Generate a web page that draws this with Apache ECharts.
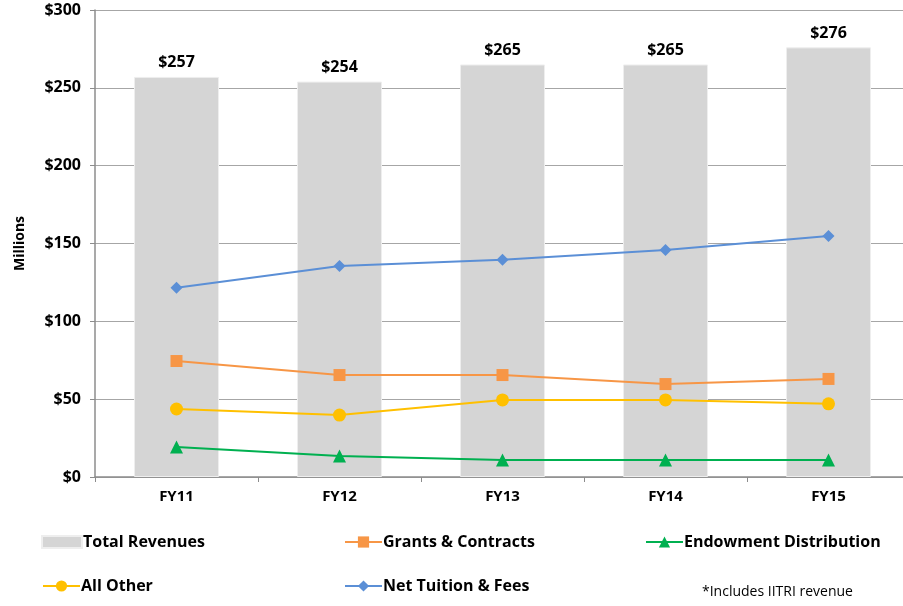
<!DOCTYPE html>
<html><head><meta charset="utf-8">
<script src="https://cdn.jsdelivr.net/npm/echarts@6/dist/echarts.min.js"></script>
<style>html,body{margin:0;padding:0;background:#fff}#c{width:903px;height:606px}</style>
</head><body><div id="c"></div>
<script>
const categories = ['FY11','FY12','FY13','FY14','FY15'];
const totalRevenues = [257,254,265,265,276];
const grantsContracts = [74.5,65.5,65.5,59.7,63];
const endowmentDistribution = [19.3,13.5,11,11,11];
const allOther = [43.7,39.8,49.5,49.5,47];
const netTuition = [121.5,135.5,139.5,145.8,154.8];
const yTicks = [0,50,100,150,200,250,300];

const F = '"Open Sans", "DejaVu Sans", sans-serif';
const txt = {fontFamily:F,fontWeight:'bold',fontSize:16,color:'#000'};
const chart = echarts.init(document.getElementById('c'));
function leg(name,left,top,icon,w,h){
  return {data:[{name:name,icon:icon}],left:left,top:top,itemWidth:w,itemHeight:h,itemGap:0,
    textStyle:Object.assign({},txt,{padding:[0,0,0,-4]}),selectedMode:false};
}
chart.setOption({
  animation:false,
  grid:{left:95,width:815,top:10,bottom:129,containLabel:false,outerBoundsMode:'none'},
  legend:[
    leg('Total Revenues',36,529,'rect',40,12),
    leg('Grants & Contracts',339,529,null,37,14),
    leg('Endowment Distribution',640,529,null,37,14),
    leg('All Other',37,573,null,37,14),
    leg('Net Tuition & Fees',339,573,null,37,14)
  ],
  graphic:[{type:'text',left:702,top:585,style:{text:'*Includes IITRI revenue',font:'14px "Open Sans", sans-serif',fill:'#000'}}],
  xAxis:{type:'category',data:categories,boundaryGap:true,
    axisLine:{lineStyle:{color:'#8c8c8c',width:1.5}},
    axisTick:{show:true,length:5,lineStyle:{color:'#8c8c8c'}},
    axisLabel:Object.assign({},txt,{fontSize:15,margin:12})},
  yAxis:{type:'value',min:0,max:300,interval:50,name:'Millions',nameLocation:'middle',nameGap:68,
    nameTextStyle:Object.assign({},txt,{fontSize:14}),
    axisLine:{show:true,lineStyle:{color:'#8c8c8c',width:1.5}},
    axisTick:{show:true,length:5,lineStyle:{color:'#8c8c8c'}},
    splitLine:{lineStyle:{color:'#a6a6a6',width:1.2}},
    axisLabel:Object.assign({},txt,{fontSize:16,margin:14,formatter:v=>yTicks.includes(v)?'$'+v:''})},
  series:[
    {name:'Total Revenues',type:'bar',data:totalRevenues,barWidth:85,
     itemStyle:{color:'#d5d5d5',borderColor:'#eeeeee',borderWidth:1},
     label:{show:true,position:'top',distance:6,formatter:p=>'$'+p.value,fontFamily:F,fontWeight:'bold',fontSize:16,color:'#000'}},
    {name:'Grants & Contracts',type:'line',data:grantsContracts,symbol:'rect',symbolSize:12,
     lineStyle:{color:'#f79646',width:2},itemStyle:{color:'#f79646'}},
    {name:'Endowment Distribution',type:'line',data:endowmentDistribution,symbol:'triangle',symbolSize:13,
     lineStyle:{color:'#00b050',width:2},itemStyle:{color:'#00b050'}},
    {name:'All Other',type:'line',data:allOther,symbol:'circle',symbolSize:13,
     lineStyle:{color:'#ffc000',width:2},itemStyle:{color:'#ffc000'}},
    {name:'Net Tuition & Fees',type:'line',data:netTuition,symbol:'diamond',symbolSize:12,
     lineStyle:{color:'#5b8fd6',width:2},itemStyle:{color:'#5b8fd6'}}
  ]
});
</script></body></html>
